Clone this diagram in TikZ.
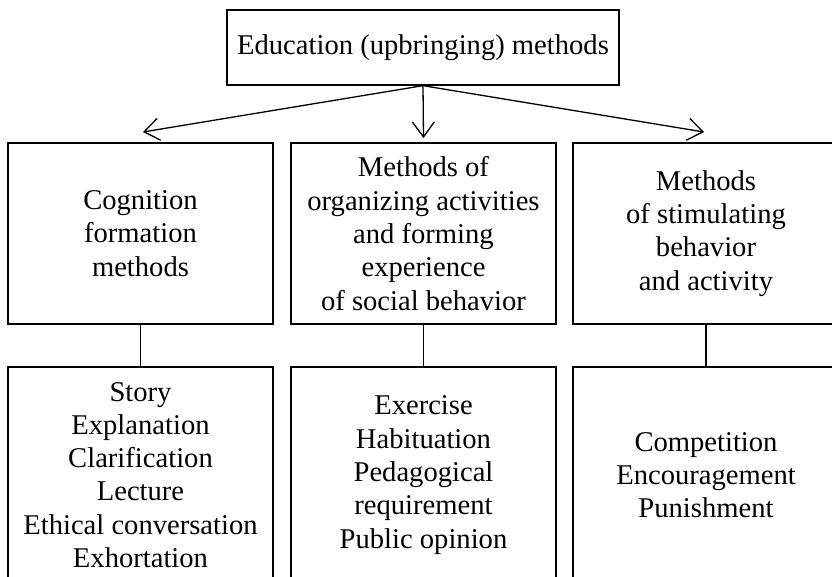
\documentclass[tikz,border=0pt]{standalone}
\usepackage{fontspec}
\setmainfont{Liberation Serif}
\usetikzlibrary{arrows.meta}
\begin{document}
\begin{tikzpicture}[x=1pt,y=-1pt,
  box/.style={draw, line width=1.3pt, inner sep=0pt, align=center,
    font=\fontsize{28.6}{33.3}\selectfont},
  colbox/.style={box, minimum width=265pt},
  link/.style={line width=1.3pt},
  pointer/.style={line width=1.3pt, -{Straight Barb[length=15pt,width=22pt]}}]
\useasboundingbox (0,0) rectangle (832,576);
\clip (0,0) rectangle (832,576);

% heading
\node[box, minimum width=392pt, minimum height=75pt] (head) at (423,47.5)
  {Education (upbringing) methods};

% three groups of methods
\node[colbox, minimum height=181pt] (cog) at (140.5,233.5)
  {Cognition\\formation\\methods};
\node[colbox, minimum height=181pt] (org) at (423.5,233.5)
  {Methods of\\organizing activities\\and forming\\experience\\of social behavior};
\node[colbox, minimum width=266pt, minimum height=181pt] (stim) at (706,233.5)
  {Methods\\of stimulating\\behavior\\and activity};

% the methods of each group
\node[colbox, minimum height=216pt] (cogl) at (140.5,475)
  {Story\\Explanation\\Clarification\\Lecture\\Ethical conversation\\Exhortation};
\node[colbox, minimum height=216pt] (orgl) at (423.5,475)
  {Exercise\\Habituation\\Pedagogical\\requirement\\Public opinion};
\node[colbox, minimum width=266pt, minimum height=216pt] (stiml) at (706,475)
  {Competition\\Encouragement\\Punishment};

% arrows from the heading
\coordinate (tipl) at (143,132);
\coordinate (tipm) at (423.5,138);
\coordinate (tipr) at (704,132);
\draw[pointer] (head.south) -- (tipl);
\draw[pointer] (head.south) -- (tipm);
\draw[pointer] (head.south) -- (tipr);

% links between the rows
\draw[link] (cog.south) -- (cogl.north);
\draw[link] (org.south) -- (orgl.north);
\draw[link] (stim.south) -- (stiml.north);
\end{tikzpicture}
\end{document}
